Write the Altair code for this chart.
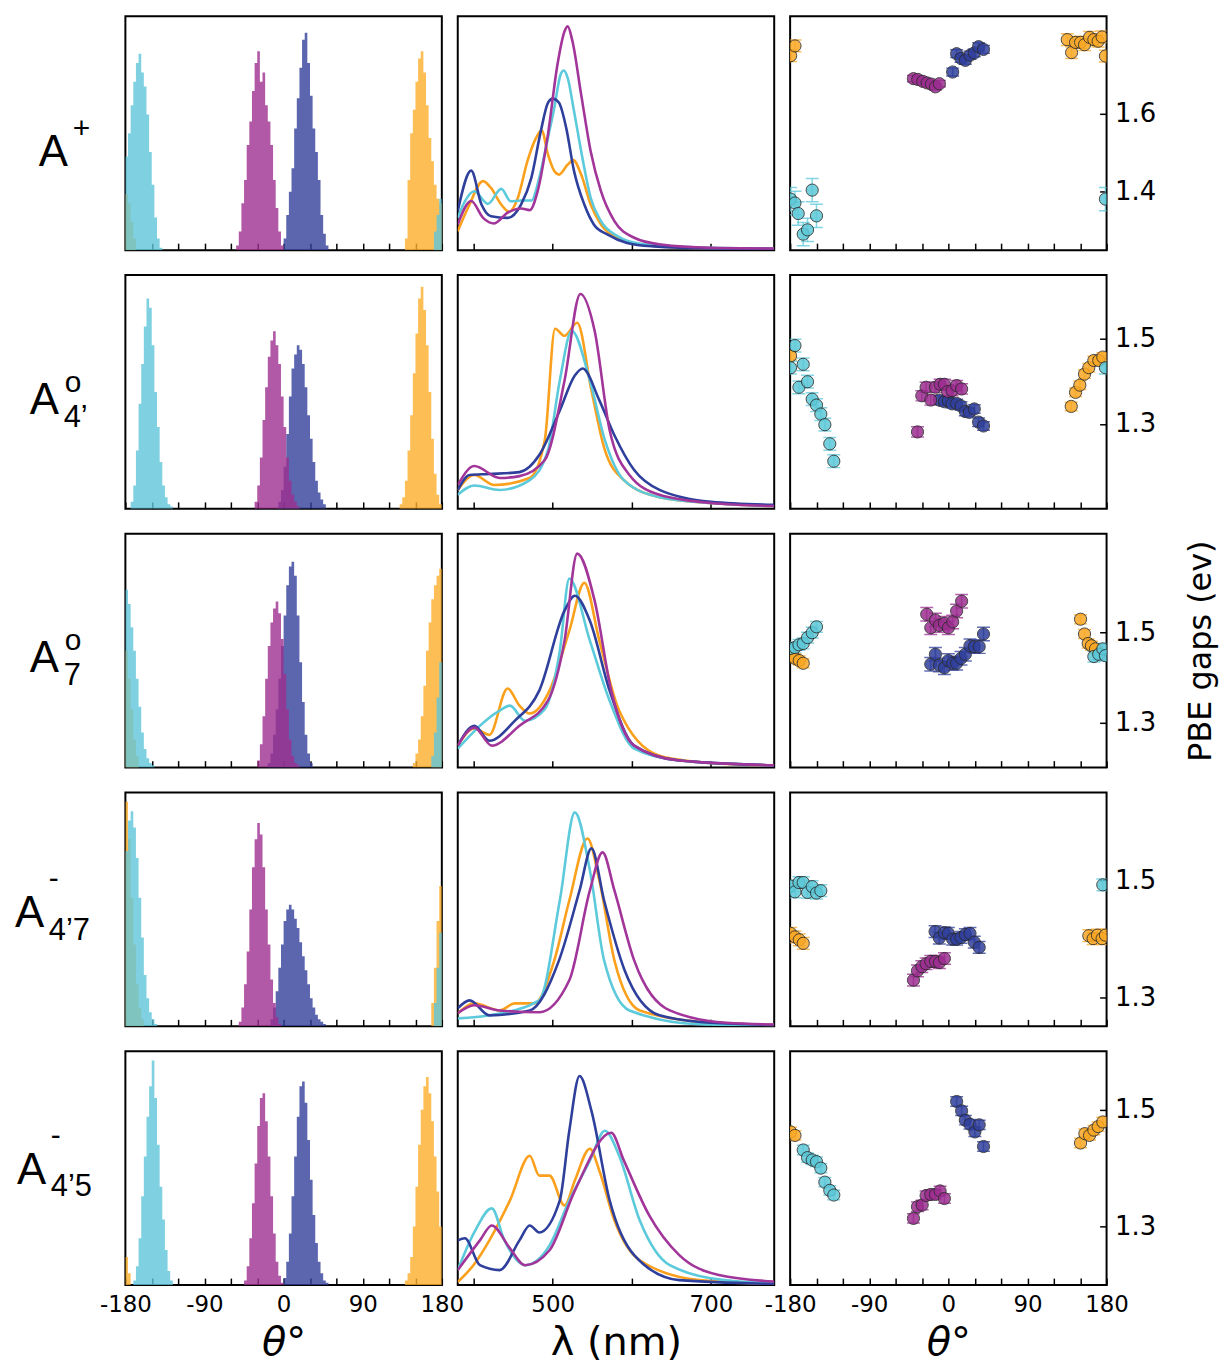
import altair as alt
import pandas as pd

# ---------------- data ----------------
ORDER = ["orange", "cyan", "blue", "magenta"]
HIST_FILL = {"cyan": "#5fc6d9", "magenta": "#9e3090", "blue": "#33409b", "orange": "#fcae2c"}
LINE_COL = {"cyan": "#5ccadb", "magenta": "#a2359a", "blue": "#2f3f9c", "orange": "#fba01c"}
PT_FILL = {"cyan": "#5cc8d8", "magenta": "#9c2d90", "blue": "#2f3f9c", "orange": "#f9a825"}

ROW_MAIN = ["A", "A", "A", "A", "A"]
ROW_SUP = ["+", "o", "o", "-", "-"]
ROW_SUB = ["", "4’", "7", "4’7", "4’5"]

BIN = 3  # histogram bin width (deg)
# histogram segments: series -> list of (first bin start, bin heights)
HIST = {
    1: {"orange": [(138, [.05, .30, .50, .60, .72, .82, .85, .76, .62, .48, .38, .28, .22, .20]),
                   (-180, [.24, .20, .12, .05])],
        "cyan": [(-180, [.40, .50, .62, .72, .80, .84, .76, .70, .58, .42, .28, .14, .05, .01]),
                 (171, [.08, .15, .22])],
        "blue": [(0, [.05, .15, .25, .35, .52, .65, .78, .90, .93, .80, .66, .52, .42, .30, .15, .07, .02])],
        "magenta": [(-54, [.02, .08, .20, .30, .45, .55, .68, .80, .85, .72, .76, .62, .55, .45, .30, .18, .08, .02])]},
    2: {"orange": [(132, [.02, .05, .12, .25, .40, .58, .75, .90, .95, .85, .70, .50, .30, .15, .06, .02])],
        "cyan": [(-174, [.03, .10, .25, .45, .62, .78, .90, .86, .70, .50, .35, .20, .10, .05, .02, .01])],
        "blue": [(-6, [.03, .08, .18, .32, .48, .60, .66, .70, .68, .62, .52, .40, .30, .20, .12, .07, .04, .02])],
        "magenta": [(-33, [.03, .10, .22, .38, .52, .65, .72, .76, .70, .62, .48, .35, .22, .12, .06, .03, .01])]},
    3: {"orange": [(147, [.02, .06, .12, .22, .35, .50, .62, .72, .78, .82, .85]),
                   (-180, [.50, .38, .25, .12, .05])],
        "cyan": [(-180, [.76, .70, .60, .50, .38, .26, .15, .08, .04, .02, .01]),
                 (168, [.05, .15, .30, .45])],
        "blue": [(-18, [.02, .06, .14, .25, .38, .52, .65, .78, .86, .88, .82, .65, .45, .28, .14, .06, .02])],
        "magenta": [(-30, [.03, .10, .22, .38, .52, .62, .68, .71, .66, .55, .40, .25, .12, .05, .02, .01])]},
    4: {"orange": [(-180, [.96, .80, .55, .35, .18, .08, .03]),
                   (168, [.10, .25, .45, .60])],
        "cyan": [(-180, [.75, .88, .92, .85, .72, .55, .38, .22, .12, .06, .03, .01]),
                 (171, [.10, .25, .40])],
        "blue": [(-15, [.03, .08, .15, .25, .35, .45, .50, .52, .50, .46, .42, .36, .30, .24, .18, .12, .08, .05, .03, .02, .01])],
        "magenta": [(-51, [.02, .08, .18, .32, .50, .68, .80, .87, .82, .68, .50, .35, .20, .10, .04, .01])]},
    5: {"orange": [(138, [.02, .05, .12, .25, .42, .60, .75, .85, .89, .82, .70, .55, .40, .25]),
                   (-180, [.12, .05])],
        "cyan": [(-171, [.02, .08, .20, .38, .55, .72, .85, .96, .80, .60, .42, .28, .15, .06, .02])],
        "blue": [(0, [.03, .10, .22, .38, .55, .72, .85, .87, .78, .62, .45, .30, .18, .10, .05, .02, .01])],
        "magenta": [(-45, [.02, .08, .20, .35, .52, .68, .80, .82, .70, .55, .38, .22, .10, .04, .01])]},
}

# absorption spectra: series -> list of (lambda nm, intensity)
SPEC = {
    1: {"orange": [(380, .081), (393, .181), (412, .295), (422, .266), (435, .195), (445, .164), (456, .224),
                   (468, .38), (479, .48), (486, .513), (494, .409), (502, .338), (508, .323), (519, .366),
                   (526, .385), (536, .323), (548, .195), (561, .11), (582, .053), (611, .024), (670, .01), (780, .006)],
        "cyan": [(380, .138), (389, .209), (401, .252), (418, .198), (435, .262), (447, .209), (460, .212),
                 (473, .212), (483, .309), (494, .48), (502, .608), (510, .751), (514, .768), (519, .736),
                 (527, .594), (536, .423), (548, .224), (561, .124), (582, .06), (611, .027), (670, .013), (780, .006)],
        "blue": [(380, .167), (397, .34), (410, .195), (422, .145), (443, .138), (460, .195), (473, .309),
                 (485, .509), (494, .63), (500, .648), (508, .63), (517, .524), (527, .338), (540, .195),
                 (552, .11), (569, .067), (594, .031), (628, .016), (700, .007), (780, .005)],
        "magenta": [(380, .11), (397, .21), (412, .138), (426, .114), (443, .16), (460, .178), (471, .171),
                    (481, .252), (494, .494), (506, .793), (515, .936), (519, .957), (525, .893), (536, .665),
                    (548, .423), (561, .252), (578, .124), (603, .053), (637, .024), (700, .01), (780, .007)]},
    2: {"orange": [(380, .08), (401, .145), (426, .102), (471, .132), (490, .294), (503, .77), (515, .74),
                   (531, .796), (549, .506), (566, .251), (590, .123), (635, .05), (700, .025), (780, .012)],
        "cyan": [(380, .06), (401, .10), (433, .081), (471, .123), (494, .251), (509, .549), (524, .762),
                 (547, .549), (566, .294), (590, .123), (635, .05), (700, .025), (780, .012)],
        "blue": [(380, .08), (395, .145), (420, .149), (458, .157), (483, .23), (509, .421), (528, .57),
                 (538, .60), (559, .464), (578, .315), (603, .166), (635, .081), (700, .03), (780, .017)],
        "magenta": [(380, .102), (401, .183), (433, .132), (458, .14), (490, .209), (515, .549), (535, .919),
                    (553, .762), (572, .336), (597, .145), (635, .06), (700, .025), (780, .012)]},
    3: {"orange": [(380, .094), (401, .167), (420, .14), (443, .338), (458, .265), (471, .231), (496, .329),
                   (521, .585), (540, .79), (559, .543), (584, .244), (635, .051), (700, .02), (780, .01)],
        "cyan": [(380, .081), (433, .244), (446, .265), (465, .2), (490, .25), (509, .5), (521, .808),
                 (547, .543), (572, .286), (603, .081), (660, .03), (780, .01)],
        "blue": [(380, .094), (401, .179), (420, .115), (452, .2), (483, .329), (515, .671), (528, .735),
                 (547, .628), (572, .329), (603, .094), (660, .03), (780, .01)],
        "magenta": [(380, .094), (401, .171), (423, .094), (458, .179), (494, .286), (515, .543), (531, .915),
                    (553, .714), (574, .329), (603, .094), (660, .03), (780, .01)]},
    4: {"orange": [(380, .056), (401, .098), (433, .068), (452, .098), (477, .098), (502, .282), (521, .538),
                   (544, .803), (559, .624), (578, .282), (610, .068), (700, .015), (780, .006)],
        "cyan": [(380, .034), (420, .047), (483, .111), (509, .538), (528, .915), (547, .667), (565, .282),
                 (597, .068), (685, .009), (780, .004)],
        "blue": [(380, .077), (395, .111), (420, .047), (471, .068), (508, .282), (534, .581), (549, .761),
                 (565, .538), (591, .239), (635, .047), (700, .015), (780, .006)],
        "magenta": [(380, .056), (401, .09), (433, .068), (483, .06), (521, .197), (547, .581), (563, .744),
                    (578, .581), (603, .282), (648, .068), (720, .015), (780, .008)]},
    5: {"orange": [(380, .013), (401, .09), (420, .191), (446, .362), (471, .553), (483, .468), (496, .468),
                   (515, .34), (528, .447), (547, .583), (559, .489), (578, .277), (610, .106), (685, .021), (780, .005)],
        "cyan": [(380, .064), (401, .226), (423, .328), (439, .191), (465, .085), (496, .17), (521, .362),
                 (547, .532), (566, .66), (584, .553), (610, .277), (648, .085), (720, .02), (780, .008)],
        "blue": [(380, .191), (389, .2), (408, .085), (433, .064), (458, .191), (471, .255), (483, .225),
                 (509, .362), (521, .66), (534, .894), (549, .745), (572, .362), (603, .128), (660, .021), (780, .005)],
        "magenta": [(380, .064), (408, .191), (423, .255), (446, .157), (465, .085), (496, .149), (528, .404),
                    (574, .651), (590, .532), (622, .298), (660, .128), (710, .043), (780, .015)]},
}

# PBE gaps: series -> (theta list, gap list, error half-width)
GAPS = {
    1: {"orange": ([-179.4, -174.5, 135.3, 140.2, 144.7, 150.4, 154.9, 160.6, 165.5, 170.4, 174.9, 178.7],
                   [1.749, 1.774, 1.790, 1.757, 1.783, 1.783, 1.777, 1.796, 1.790, 1.786, 1.797, 1.748], .015),
        "cyan": ([-179.5, -174.5, -170.8, -165.1, -160.2, -154.9, -150.0, 178.7],
                 [1.381, 1.371, 1.344, 1.291, 1.302, 1.404, 1.338, 1.381], .03),
        "blue": ([4.9, 9.4, 14.4, 19.3, 24.6, 29.5, 34.4, 40.0],
                 [1.707, 1.754, 1.742, 1.737, 1.750, 1.756, 1.772, 1.765], .01),
        "magenta": ([-39.7, -34.8, -29.1, -24.2, -19.3, -14.7, -10.2],
                    [1.690, 1.688, 1.683, 1.679, 1.676, 1.669, 1.677], .008)},
    2: {"orange": ([-179.5, 139.8, 144.7, 149.6, 154.9, 159.8, 165.5, 171.1, 175.7],
                   [1.460, 1.341, 1.374, 1.391, 1.417, 1.432, 1.449, 1.449, 1.457], .01),
        "cyan": ([-179.5, -174.5, -170.0, -165.1, -160.2, -154.9, -150.0, -145.1, -140.5, -134.9, -130.3, 178.7],
                 [1.432, 1.484, 1.386, 1.440, 1.399, 1.358, 1.344, 1.323, 1.298, 1.253, 1.212, 1.432], .015),
        "blue": ([-10.2, -4.5, 0.0, 4.2, 9.4, 14.4, 19.3, 23.8, 29.5, 34.4, 40.0],
                 [1.356, 1.352, 1.354, 1.347, 1.348, 1.342, 1.329, 1.327, 1.335, 1.304, 1.295], .01),
        "magenta": ([-35.1, -30.2, -25.3, -20.0, -14.7, -9.4, -4.5, -0.8, 4.2, 9.4, 15.1],
                    [1.281, 1.366, 1.386, 1.356, 1.386, 1.393, 1.393, 1.376, 1.378, 1.390, 1.382], .012)},
    3: {"orange": ([-179.5, -174.5, -169.6, -165.1, 150.4, 154.9, 159.1, 162.8, 167.4],
                   [1.447, 1.443, 1.438, 1.432, 1.530, 1.497, 1.476, 1.471, 1.464], .01),
        "cyan": ([-179.5, -174.5, -170.0, -165.1, -160.2, -154.9, -150.0, 165.5, 171.1, 175.7, 178.7],
                 [1.465, 1.467, 1.473, 1.476, 1.489, 1.500, 1.513, 1.447, 1.452, 1.464, 1.449], .012),
        "blue": ([-20.0, -14.7, -10.2, -4.5, 0.0, 4.9, 9.4, 14.4, 19.3, 24.6, 29.5, 35.1, 40.0],
                 [1.430, 1.452, 1.428, 1.422, 1.438, 1.432, 1.432, 1.443, 1.452, 1.471, 1.469, 1.469, 1.497], .015),
        "magenta": ([-24.6, -20.0, -14.7, -10.2, -4.5, 0.0, 4.9, 9.4, 15.1],
                    [1.541, 1.511, 1.528, 1.516, 1.521, 1.511, 1.524, 1.548, 1.570], .015)},
    4: {"orange": ([-179.5, -174.5, -169.6, -165.1, 159.8, 164.7, 169.6, 174.9, 178.7],
                   [1.409, 1.403, 1.398, 1.392, 1.405, 1.400, 1.406, 1.400, 1.406], .01),
        "cyan": ([-179.5, -174.5, -170.0, -165.1, -160.2, -154.9, -150.0, -145.1, 175.7],
                 [1.490, 1.480, 1.496, 1.496, 1.479, 1.489, 1.478, 1.482, 1.492], .01),
        "blue": ([-15.1, -10.2, -4.5, 0.0, 4.9, 9.4, 14.4, 19.3, 24.6, 29.5, 35.1],
                 [1.412, 1.401, 1.410, 1.409, 1.399, 1.399, 1.402, 1.407, 1.409, 1.394, 1.385], .01),
        "magenta": ([-39.7, -35.1, -30.2, -25.3, -20.0, -14.7, -10.2, -4.5],
                    [1.329, 1.345, 1.352, 1.357, 1.361, 1.361, 1.359, 1.366], .01)},
    5: {"orange": ([-179.5, -174.5, 150.4, 155.3, 160.6, 165.5, 170.4, 175.7],
                   [1.462, 1.456, 1.443, 1.459, 1.456, 1.465, 1.471, 1.479], .008),
        "cyan": ([-165.1, -160.2, -154.9, -150.0, -145.1, -140.5, -134.9, -130.3],
                 [1.431, 1.418, 1.414, 1.411, 1.400, 1.376, 1.362, 1.354], .008),
        "blue": ([9.4, 15.1, 19.3, 24.6, 30.2, 35.1, 40.0],
                 [1.514, 1.498, 1.482, 1.475, 1.462, 1.474, 1.437], .008),
        "magenta": ([-39.7, -35.1, -29.8, -25.3, -20.0, -14.7, -9.4, -4.5],
                    [1.314, 1.334, 1.337, 1.353, 1.355, 1.355, 1.361, 1.348], .008)},
}
GAP_DOMAIN = {1: [1.25, 1.85], 2: [1.10, 1.65], 3: [1.20, 1.72], 4: [1.25, 1.65], 5: [1.20, 1.60]}
GAP_TICKS = {1: [1.4, 1.6], 2: [1.3, 1.5], 3: [1.3, 1.5], 4: [1.3, 1.5], 5: [1.3, 1.5]}
THETA_TICKS = list(range(-180, 181, 30))
LAMBDA_TICKS = [400, 500, 600, 700]

# ---------------- layout / style ----------------
W, H = 318, 235
LABEL_W = 103
FONT = "DejaVu Sans"
# label layout per row: (A x, A baseline, sup x, sup baseline, sub x, sub baseline)
LABEL_POS = {1: (32, 150, 66, 122, 66, 160),
             2: (23, 140, 58, 118, 57, 153),
             3: (23, 139, 58, 117, 57, 152),
             4: (8, 135, 42, 96, 42, 148),
             5: (10, 133, 44, 94, 44, 146)}


def label_chart(r):
    ax, ay, sx, sy, bx, by = LABEL_POS[r]
    items = [(ROW_MAIN[r - 1], ax, ay, 44), (ROW_SUP[r - 1], sx, sy, 30), (ROW_SUB[r - 1], bx, by, 31)]
    layers = []
    for txt, x, y, fs in items:
        if not txt:
            continue
        layers.append(
            alt.Chart(pd.DataFrame({"t": [txt]})).mark_text(
                align="left", baseline="alphabetic", font="Liberation Sans", fontSize=fs, color="black"
            ).encode(text="t:N", x=alt.value(x), y=alt.value(y))
        )
    return alt.layer(*layers).properties(width=LABEL_W, height=H, view=alt.ViewBackground(strokeWidth=0))


def bottom_axis(values, expr, last, title):
    kw = dict(values=values, labelExpr=expr, labels=last, offset=-7, tickSize=7, tickWidth=1.5,
              tickColor="black", domain=False, grid=False, labelFlush=False, labelFontSize=23,
              labelPadding=9, labelColor="black", labelFont=FONT)
    if last:
        kw.update(title=title, titleFontSize=40, titlePadding=6, titleColor="black", titleFont=FONT,
                  titleFontWeight="normal")
        if title.startswith("θ"):
            kw.update(titleFontStyle="italic")
    else:
        kw.update(title=None)
    return alt.Axis(**kw)


def theta_axis(last):
    return bottom_axis(THETA_TICKS, "datum.value % 90 === 0 ? '' + datum.value : ''", last, "θ°")


def hist_chart(r, last):
    layers = []
    for s in ORDER:
        recs = []
        for k, (start, hs) in enumerate(HIST[r][s]):
            for i, h in enumerate(hs):
                recs.append({"x": start + i * BIN, "h": h, "seg": k})
            recs.append({"x": start + len(hs) * BIN, "h": hs[-1], "seg": k})
        df = pd.DataFrame(recs)
        layers.append(
            alt.Chart(df).mark_area(interpolate="step-after", color=HIST_FILL[s], opacity=0.8, clip=True).encode(
                x=alt.X("x:Q", scale=alt.Scale(domain=[-180, 180], nice=False, zero=False), axis=theta_axis(last)),
                y=alt.Y("h:Q", scale=alt.Scale(domain=[0, 1], nice=False), axis=None, stack=None),
                detail="seg:N",
            )
        )
    return alt.layer(*layers).properties(width=W, height=H)


def spec_chart(r, last):
    ax = bottom_axis(LAMBDA_TICKS, "datum.value === 500 || datum.value === 700 ? '' + datum.value : ''",
                     last, "λ (nm)")
    layers = []
    for s in ["orange", "cyan", "blue", "magenta"]:
        df = pd.DataFrame(SPEC[r][s], columns=["lam", "v"])
        layers.append(
            alt.Chart(df).mark_line(interpolate="monotone", color=LINE_COL[s], strokeWidth=2.6, clip=True).encode(
                x=alt.X("lam:Q", scale=alt.Scale(domain=[380, 780], nice=False, zero=False), axis=ax),
                y=alt.Y("v:Q", scale=alt.Scale(domain=[0, 1], nice=False), axis=None),
            )
        )
    return alt.layer(*layers).properties(width=W, height=H)


def gap_chart(r, last):
    recs = []
    for s in ORDER:
        ts, gs, e = GAPS[r][s]
        for t, g in zip(ts, gs):
            recs.append({"s": s, "t": t, "g": g, "lo": g - e, "hi": g + e})
    df = pd.DataFrame(recs)
    ykw = dict(orient="right", values=GAP_TICKS[r], format=".1f", offset=-7, tickSize=7, tickWidth=1.5,
               tickColor="black", domain=False, grid=False, labelFontSize=26, labelPadding=8,
               labelColor="black", labelFont=FONT)
    if r == 3:
        ykw.update(title="PBE gaps (ev)", titleAngle=270, titleFontSize=32, titlePadding=62,
                   titleColor="black", titleFont=FONT, titleFontWeight="normal")
    else:
        ykw.update(title=None)
    yax = alt.Axis(**ykw)
    xax = theta_axis(last)
    xs = alt.X("t:Q", scale=alt.Scale(domain=[-180, 180], nice=False, zero=False), axis=xax)
    ysc = alt.Scale(domain=GAP_DOMAIN[r], nice=False, zero=False)
    col = alt.Color("s:N", scale=alt.Scale(domain=ORDER, range=[PT_FILL[s] for s in ORDER]), legend=None)
    base = alt.Chart(df)
    err = base.mark_rule(strokeWidth=1.5, opacity=0.75, clip=True).encode(
        x=xs, y=alt.Y("lo:Q", scale=ysc, axis=yax), y2="hi:Q", color=col)
    cap_lo = base.mark_tick(orient="horizontal", size=13, thickness=1.5, opacity=0.75, clip=True).encode(
        x=xs, y=alt.Y("lo:Q", scale=ysc, axis=yax), color=col)
    cap_hi = base.mark_tick(orient="horizontal", size=13, thickness=1.5, opacity=0.75, clip=True).encode(
        x=xs, y=alt.Y("hi:Q", scale=ysc, axis=yax), color=col)
    pts = base.mark_circle(size=150, opacity=0.85, stroke="#2a2a2a", strokeWidth=1, clip=True).encode(
        x=xs, y=alt.Y("g:Q", scale=ysc, axis=yax), color=col)
    return alt.layer(err, cap_lo, cap_hi, pts).properties(width=W, height=H)


charts = []
for r in range(1, 6):
    last = r == 5
    charts += [label_chart(r), hist_chart(r, last), spec_chart(r, last), gap_chart(r, last)]

chart = alt.concat(*charts, columns=4, spacing={"row": 25, "column": 16}, bounds="flush").properties(
    padding={"left": 7, "top": 12, "right": 5, "bottom": 5}, background="white"
).configure_view(stroke="black", strokeWidth=2)

chart.save("out.html", embed_options={"renderer": "svg", "actions": False})
